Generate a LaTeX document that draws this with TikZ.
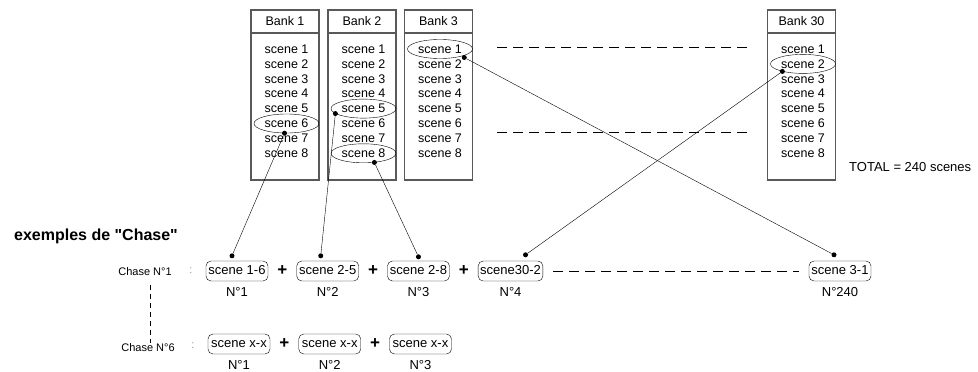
\documentclass[tikz,border=0pt]{standalone}
\usepackage{fontspec}
\setmainfont[Ligatures=TeXOff]{Liberation Sans}
\usetikzlibrary{chains,positioning,shapes.geometric}

\begin{document}
\begin{tikzpicture}[x=1pt,y=-1pt,
            bank/.style={
              draw=black!65,
              line width=1.1pt,
              minimum width=68pt,
              minimum height=170pt
            },
            head/.style={
              draw=black!65,
              line width=1.1pt,
              minimum width=68pt,
              minimum height=23pt,
              font=\fontsize{12.5}{14}\selectfont
            },
            scn/.style={
              inner sep=0pt,
              font=\fontsize{12.5}{14}\selectfont
            },
            pick/.style={
              draw,
              ellipse,
              thin,
              minimum width=65pt,
              minimum height=19pt
            },
            dot/.style={
              circle,
              fill,
              inner sep=0pt,
              minimum size=5pt
            },
            chase/.style={
              draw,
              thin,
              rounded corners=5pt,
              inner sep=2pt,
              minimum width=62pt,
              minimum height=20pt,
              text height=9.5pt,
              text depth=2.5pt,
              font=\fontsize{13}{15}\selectfont
            },
            plus/.style={
              inner sep=0pt,
              font=\fontsize{17}{18}\selectfont\bfseries
            },
            num/.style={
              inner sep=2pt,
              font=\fontsize{13}{15}\selectfont
            },
            lab/.style={
              inner sep=1pt,
              font=\fontsize{11}{13}\selectfont
            },
            hdash/.style={
              thin,
              dash pattern=on 10pt off 6pt
            },
            label distance=4pt
            ]
            \useasboundingbox (0,0) rectangle (978,372);
            
            % the banks
            \foreach \n/\x in {1/285,2/362,3/438.5,30/801.5}{
              \node[bank] (b\n) at (\x,95) {};
              \node[head,anchor=north] (h\n) at (b\n.north) {Bank \n};
              \foreach \k in {1,...,8}
                \node[scn] (b\n s\k) at ({\x+1.5},{49+(\k-1)*14.9}) {scene \k};
            }
            
            \node[pick] (e16) at (b1s6) {};
            \node[pick] (e25) at (b2s5) {};
            \node[pick] (e28) at (b2s8) {};
            \node[pick] (e31) at (b3s1) {};
            \node[pick] (e302) at (b30s2) {};
            
            \node[dot] (d16) at ([xshift=-2pt]e16.south) {};
            \node[dot] (d25) at (e25.190) {};
            \node[dot] (d28) at (e28.-40) {};
            \node[dot] (d31) at ([yshift=-2pt]e31.-15) {};
            \node[dot] (d302) at (e302.-160) {};
            
            \coordinate (u1) at (497,47);
            \coordinate (u2) at (750,47);
            \coordinate (v1) at (497,132);
            \coordinate (v2) at (750,132);
            \draw[hdash] (u1) -- (u2);
            \draw[hdash] (v1) -- (v2);
            
            \node[scn,anchor=west,font=\fontsize{13}{15}\selectfont] (tot) at (849,167) 
              {TOTAL = 240 scenes};
            
            \node[font=\fontsize{16}{18}\selectfont\bfseries] (ttl) at (96,236) 
              {exemples de "Chase"};
            
            % first chase
            \node[lab] (ch1) at (145,272) {Chase N°1};
            \node[lab,text=black!40] (k1) at (191,271) {:};
            \begin{scope}[start chain=1 going right,node distance=9pt]
            \node[on chain=1,chase,label={[num]below:N°1}] at (237,271) 
              (c16) {scene 1-6};
            \node[on chain=1,plus] (p11) {+};
            \node[on chain=1,chase,label={[num]below:N°2}] 
              (c25) {scene 2-5};
            \node[on chain=1,plus] (p12) {+};
            \node[on chain=1,chase,label={[num]below:N°3}] 
              (c28) {scene 2-8};
            \node[on chain=1,plus] (p13) {+};
            \node[on chain=1,chase,label={[num]below:N°4}] 
              (c302) {scene30-2};
            \end{scope}
            \node[chase,label={[num]below:N°240}] (c31) at (840,271) {scene 3-1};
            \draw[hdash] ([xshift=10pt]c302.east) -- ([xshift=-10pt]c31.west);
            
            % sixth chase
            \node[lab] (ch6) at (148,348) {Chase N°6};
            \node[lab,text=black!40] (k6) at (193,346) {:};
            \begin{scope}[start chain=2 going right,node distance=9pt]
            \node[on chain=2,chase,label={[num]below:N°1}] at (239,344) 
              (x1) {scene x-x};
            \node[on chain=2,plus] (p21) {+};
            \node[on chain=2,chase,label={[num]below:N°2}] 
              (x2) {scene x-x};
            \node[on chain=2,plus] (p22) {+};
            \node[on chain=2,chase,label={[num]below:N°3}] 
              (x3) {scene x-x};
            \end{scope}
            \draw[thin,dash pattern=on 5pt off 4pt] ([xshift=5pt,yshift=-8pt]ch1.south) -- ([xshift=2pt]ch6.north);
            
            % picks
            \node[dot] (t16) at ([xshift=-5pt,yshift=5pt]c16.north) {};
            \node[dot] (t25) at ([xshift=-7pt,yshift=5pt]c25.north) {};
            \node[dot] (t28) at ([yshift=4pt]c28.north) {};
            \node[dot] (t302) at ([xshift=15pt,yshift=6pt]c302.north) {};
            \node[dot] (t31) at ([xshift=-6pt,yshift=6pt]c31.north) {};
            
            \draw (d16) -- (t16);
            \draw (d25) -- (t25);
            \draw (d28) -- (t28);
            \draw (d31) -- (t31);
            \draw (d302) -- (t302);
            \end{tikzpicture}
\end{document}
